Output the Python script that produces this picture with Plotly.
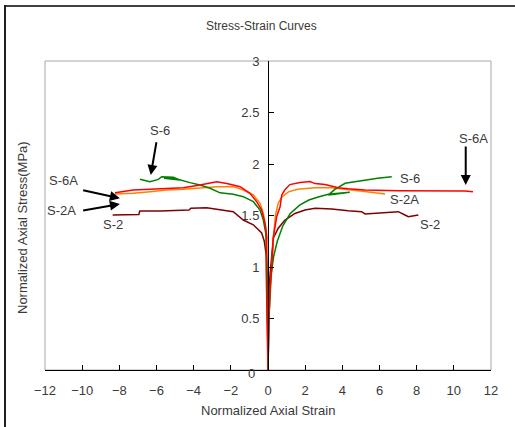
import plotly.graph_objects as go

# ---------------- data ----------------
s2_x = [-8.36, -7.6, -6.95, -6.9, -5.8, -4.25, -4.15, -3.3, -2.4, -1.87, -1.33, -0.79, -0.34, -0.2, -0.1, -0.04, 0,
        0.03, 0.1, 0.2, 0.285, 0.55, 0.915, 1.45, 1.99, 2.53, 3.43, 4.32, 5.04, 5.22, 6.12, 7.01, 7.37, 7.55, 8.09]
s2_y = [1.505, 1.505, 1.51, 1.543, 1.543, 1.553, 1.57, 1.576, 1.553, 1.537, 1.456, 1.41, 1.33, 1.25, 1.12, 0.9, 0,
        0.5, 0.9, 1.15, 1.279, 1.376, 1.456, 1.52, 1.553, 1.57, 1.563, 1.547, 1.537, 1.515, 1.527, 1.537, 1.505, 1.488, 1.505]

s2a_x = [-8.23, -7.25, -6.35, -5.45, -4.56, -3.66, -2.76, -1.87, -1.33, -0.79, -0.43, -0.25, -0.12, -0.07, -0.05, 0,
         0.05, 0.15, 0.3, 0.4, 0.55, 0.75, 1.1, 1.6, 2.5, 3.4, 4.3, 5.2, 6.3]
s2a_y = [1.709, 1.715, 1.731, 1.748, 1.754, 1.764, 1.78, 1.78, 1.748, 1.70, 1.618, 1.52, 1.39, 1.294, 0.9, 0,
         0.5, 0.87, 1.3, 1.5, 1.62, 1.68, 1.73, 1.755, 1.77, 1.77, 1.755, 1.733, 1.708]

s6_x = [-6.89, -6.35, -5.9, -5.72, -5.1, -4.74, -5.6, -4.9, -4.2, -3.66, -3.12, -2.58, -1.87, -1.33, -0.79, -0.43, -0.25, -0.12, -0.05, 0,
        0.05, 0.15, 0.3, 0.5, 0.8, 1.2, 1.7, 2.2, 2.7, 3.25, 3.8, 4.4, 3.25, 3.6, 4.15, 4.7, 5.2, 5.9, 6.66]
s6_y = [1.851, 1.828, 1.851, 1.877, 1.871, 1.845, 1.862, 1.855, 1.819, 1.796, 1.764, 1.72, 1.706, 1.683, 1.634, 1.553, 1.456, 1.327, 1.0, 0,
        0.5, 0.9, 1.1, 1.25, 1.4, 1.52, 1.6, 1.65, 1.68, 1.706, 1.716, 1.725, 1.70, 1.754, 1.813, 1.828, 1.845, 1.861, 1.877]

s6a_x = [-8.23, -7.25, -6.35, -5.45, -4.56, -3.66, -3.12, -2.76, -2.22, -1.5, -0.97, -0.61, -0.34, -0.16, -0.07, -0.1, -0.05, 0,
         0.05, 0.11, 0.2, 0.285, 0.47, 0.65, 0.74, 0.91, 1.18, 1.72, 2.26, 2.53, 3.07, 3.43, 3.77, 4.31, 5.22, 7.0, 8.81, 10.6, 11.03]
s6a_y = [1.72, 1.748, 1.754, 1.764, 1.77, 1.796, 1.819, 1.828, 1.81, 1.78, 1.715, 1.634, 1.553, 1.424, 1.294, 1.0, 0.5, 0,
         0.5, 0.8, 1.0, 1.29, 1.49, 1.585, 1.70, 1.75, 1.80, 1.82, 1.83, 1.81, 1.80, 1.786, 1.77, 1.76, 1.748, 1.74, 1.74, 1.738, 1.73]

x_ticks = [-12, -10, -8, -6, -4, -2, 0, 2, 4, 6, 8, 10, 12]
y_ticks = [0.5, 1, 1.5, 2, 2.5, 3]
y_zero_label = "0"

# label positions (text) and arrows (head, tail)
labels = [
    ("S-6", -5.81, 2.33), ("S-6A", -11.02, 1.838), ("S-2A", -11.1, 1.553), ("S-2", -8.33, 1.408),
    ("S-6A", 11.05, 2.25), ("S-6", 7.64, 1.861), ("S-2A", 7.37, 1.66), ("S-2", 8.72, 1.413),
]
arrows = [
    (-6.31, 1.893, -5.99, 2.226),
    (-7.97, 1.667, -10.03, 1.748),
    (-7.97, 1.612, -10.03, 1.547),
    (10.64, 1.796, 10.64, 2.184),
]

# ---------------- figure ----------------
W, H = 515, 427
L, R, T, B = 45, 24, 61, 57
pw, ph = W - L - R, H - T - B
FONT = "Liberation Sans, Arial, sans-serif"
TXT = "#3a3a3a"

fig = go.Figure()
for xs, ys, col in [(s2_x, s2_y, "#800000"), (s2a_x, s2a_y, "#ff8000"),
                    (s6_x, s6_y, "#008000"), (s6a_x, s6a_y, "#ff0000")]:
    fig.add_trace(go.Scatter(x=xs, y=ys, mode="lines",
                             line=dict(color=col, width=1.5), showlegend=False,
                             hoverinfo="skip"))

def px(xp):
    return (xp - L) / pw

def py(yp):
    return (H - B - yp) / ph

shapes = [
    dict(type="rect", xref="paper", yref="paper", x0=0, x1=1, y0=0, y1=1,
         line=dict(color="#a8a8a8", width=1), layer="below"),
    dict(type="line", xref="paper", yref="paper", x0=px(4), x1=px(515), y0=py(6), y1=py(6),
         line=dict(color="#404040", width=2)),
    dict(type="line", xref="paper", yref="paper", x0=px(5), x1=px(5), y0=py(5), y1=py(427),
         line=dict(color="#202020", width=2)),
]

annotations = []
for t, x, y in labels:
    annotations.append(dict(x=x, y=y, xref="x", yref="y", text=t, showarrow=False,
                            xanchor="center", yanchor="middle",
                            font=dict(family=FONT, size=13, color=TXT)))
for hx, hy, tx, ty in arrows:
    annotations.append(dict(x=hx, y=hy, ax=tx, ay=ty, xref="x", yref="y", axref="x", ayref="y",
                            text="", showarrow=True, arrowhead=2, arrowsize=1, arrowwidth=2,
                            arrowcolor="black", standoff=0))
annotations.append(dict(x=px(257), y=0, xref="paper", yref="y", text=y_zero_label,
                        showarrow=False, xanchor="right", yanchor="middle", yshift=-3,
                        font=dict(family=FONT, size=13, color=TXT)))
annotations.append(dict(x=px(261), y=py(26), xref="paper", yref="paper", text="Stress-Strain Curves",
                        showarrow=False, xanchor="center", yanchor="middle",
                        font=dict(family=FONT, size=12, color=TXT)))
annotations.append(dict(x=px(22), y=py(228), xref="paper", yref="paper", text="Normalized Axial Stress(MPa)",
                        showarrow=False, textangle=-90, xanchor="center", yanchor="middle",
                        font=dict(family=FONT, size=13, color=TXT)))
annotations.append(dict(x=px(268), y=py(410), xref="paper", yref="paper", text="Normalized Axial Strain",
                        showarrow=False, xanchor="center", yanchor="middle",
                        font=dict(family=FONT, size=13, color=TXT)))

fig.update_layout(
    width=W, height=H,
    margin=dict(l=L, r=R, t=T, b=B, pad=0),
    paper_bgcolor="white", plot_bgcolor="white",
    showlegend=False,
    shapes=shapes, annotations=annotations,
    xaxis=dict(range=[-12, 12], tickvals=x_ticks, showgrid=False, zeroline=False,
               showline=True, linecolor="black", linewidth=1,
               ticks="inside", ticklen=5, tickcolor="black",
               ticklabelstandoff=8,
               tickfont=dict(family=FONT, size=13, color=TXT)),
    yaxis=dict(range=[0, 3], tickvals=y_ticks, showgrid=False, zeroline=False,
               anchor="free", position=0.5, side="left",
               showline=True, linecolor="black", linewidth=1,
               ticks="inside", ticklen=5, tickcolor="black",
               ticklabelstandoff=6,
               tickfont=dict(family=FONT, size=13, color=TXT)),
)

fig.write_html("out.html")
